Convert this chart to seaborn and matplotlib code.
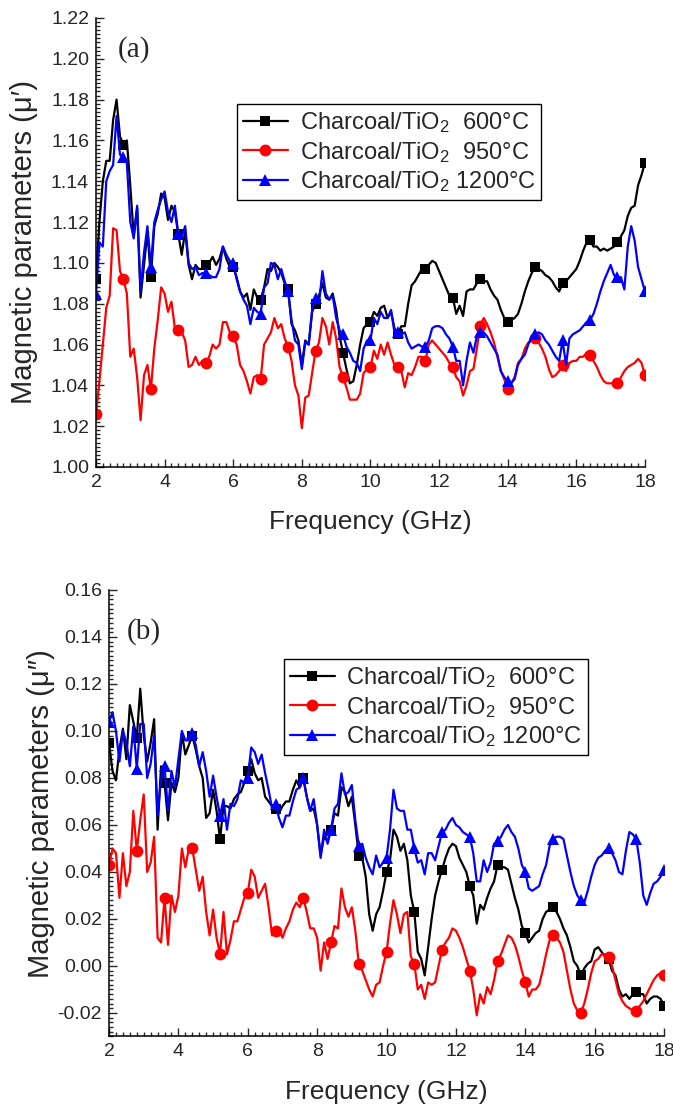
import numpy as np
import matplotlib
matplotlib.use("Agg")
import matplotlib.pyplot as plt
import seaborn as sns
from matplotlib.ticker import AutoMinorLocator, MultipleLocator, FormatStrFormatter

# frequency grid, 2-18 GHz in 0.1 GHz steps (161 points)
freq = np.round(np.linspace(2, 18, 161), 1)

labels = ["Charcoal/TiO$_2$  600°C", "Charcoal/TiO$_2$  950°C", "Charcoal/TiO$_2$ 1200°C"]

# (a) real part mu'
mu_real_600 = [
    1.092, 1.120, 1.140, 1.150, 1.150, 1.170, 1.180, 1.162, 1.158, 1.160,
    1.138, 1.113, 1.127, 1.083, 1.099, 1.115, 1.093, 1.118, 1.124, 1.134,
    1.132, 1.121, 1.128, 1.125, 1.114, 1.104, 1.116, 1.099, 1.092, 1.099,
    1.097, 1.097, 1.099, 1.100, 1.103, 1.099, 1.102, 1.108, 1.102, 1.098,
    1.098, 1.093, 1.086, 1.083, 1.085, 1.077, 1.087, 1.083, 1.082, 1.088,
    1.097, 1.096, 1.100, 1.098, 1.095, 1.090, 1.087, 1.070, 1.067, 1.062,
    1.050, 1.062, 1.060, 1.076, 1.080, 1.084, 1.090, 1.083, 1.082, 1.085,
    1.077, 1.064, 1.056, 1.048, 1.041, 1.042, 1.050, 1.060, 1.068, 1.070,
    1.071, 1.076, 1.074, 1.078, 1.079, 1.073, 1.076, 1.068, 1.065, 1.069,
    1.069, 1.080, 1.089, 1.091, 1.094, 1.097, 1.097, 1.099, 1.101, 1.100,
    1.096, 1.092, 1.088, 1.084, 1.083, 1.075, 1.079, 1.074, 1.086, 1.087,
    1.087, 1.090, 1.092, 1.091, 1.091, 1.087, 1.084, 1.082, 1.077, 1.073,
    1.071, 1.072, 1.073, 1.075, 1.080, 1.086, 1.091, 1.095, 1.098, 1.097,
    1.096, 1.094, 1.093, 1.091, 1.088, 1.086, 1.090, 1.091, 1.093, 1.095,
    1.097, 1.101, 1.106, 1.110, 1.111, 1.108, 1.108, 1.106, 1.107, 1.106,
    1.107, 1.108, 1.110, 1.113, 1.116, 1.123, 1.127, 1.128, 1.138, 1.143,
    1.149]
mu_real_950 = [
    1.026, 1.042, 1.060, 1.078, 1.084, 1.117, 1.116, 1.096, 1.092, 1.085,
    1.054, 1.058, 1.044, 1.023, 1.045, 1.050, 1.038, 1.058, 1.072, 1.088,
    1.085, 1.076, 1.081, 1.068, 1.067, 1.066, 1.062, 1.049, 1.050, 1.054,
    1.050, 1.052, 1.051, 1.054, 1.060, 1.058, 1.060, 1.071, 1.071, 1.066,
    1.064, 1.060, 1.050, 1.047, 1.042, 1.036, 1.044, 1.045, 1.043, 1.060,
    1.063, 1.066, 1.073, 1.068, 1.070, 1.063, 1.059, 1.052, 1.040, 1.035,
    1.019, 1.034, 1.035, 1.046, 1.057, 1.061, 1.073, 1.069, 1.060, 1.071,
    1.063, 1.049, 1.044, 1.039, 1.033, 1.033, 1.033, 1.036, 1.046, 1.048,
    1.049, 1.057, 1.053, 1.060, 1.055, 1.061, 1.055, 1.050, 1.049, 1.047,
    1.039, 1.046, 1.045, 1.049, 1.054, 1.054, 1.052, 1.060, 1.062, 1.060,
    1.058, 1.056, 1.054, 1.051, 1.049, 1.044, 1.042, 1.035, 1.040, 1.047,
    1.048, 1.058, 1.069, 1.073, 1.070, 1.066, 1.061, 1.054, 1.047, 1.043,
    1.038, 1.041, 1.044, 1.051, 1.053, 1.058, 1.061, 1.062, 1.063, 1.061,
    1.058, 1.054, 1.048, 1.044, 1.045, 1.047, 1.050, 1.047, 1.051, 1.052,
    1.052, 1.054, 1.054, 1.056, 1.055, 1.052, 1.049, 1.045, 1.042, 1.041,
    1.041, 1.041, 1.041, 1.044, 1.047, 1.049, 1.050, 1.051, 1.053, 1.051,
    1.045]
mu_real_1200 = [
    1.085, 1.110, 1.108, 1.140, 1.145, 1.148, 1.172, 1.153, 1.152, 1.149,
    1.120, 1.112, 1.128, 1.086, 1.105, 1.118, 1.098, 1.120, 1.126, 1.131,
    1.135, 1.125, 1.120, 1.128, 1.114, 1.113, 1.118, 1.100, 1.097, 1.098,
    1.094, 1.095, 1.095, 1.094, 1.093, 1.093, 1.097, 1.108, 1.104, 1.101,
    1.100, 1.092, 1.086, 1.082, 1.079, 1.070, 1.078, 1.076, 1.075, 1.088,
    1.090, 1.100, 1.099, 1.092, 1.097, 1.091, 1.086, 1.072, 1.062, 1.060,
    1.048, 1.061, 1.060, 1.077, 1.083, 1.080, 1.096, 1.085, 1.082, 1.084,
    1.073, 1.067, 1.065, 1.059, 1.056, 1.052, 1.051, 1.047, 1.058, 1.062,
    1.062, 1.073, 1.070, 1.076, 1.073, 1.073, 1.077, 1.066, 1.066, 1.065,
    1.066, 1.061, 1.058, 1.059, 1.060, 1.059, 1.059, 1.062, 1.068, 1.069,
    1.069, 1.068, 1.065, 1.063, 1.059, 1.052, 1.052, 1.040, 1.052, 1.061,
    1.056, 1.064, 1.066, 1.066, 1.064, 1.061, 1.058, 1.055, 1.047, 1.044,
    1.042, 1.041, 1.043, 1.050, 1.053, 1.055, 1.060, 1.064, 1.065, 1.066,
    1.065, 1.062, 1.060, 1.057, 1.054, 1.052, 1.062, 1.050, 1.063, 1.065,
    1.066, 1.067, 1.069, 1.071, 1.072, 1.075, 1.080, 1.086, 1.091, 1.095,
    1.099, 1.094, 1.093, 1.093, 1.087, 1.108, 1.118, 1.111, 1.098, 1.092,
    1.086]

# (b) imaginary part mu''
mu_imag_600 = [
    0.095, 0.083, 0.079, 0.092, 0.101, 0.088, 0.111, 0.104, 0.097, 0.118,
    0.098, 0.087, 0.095, 0.105, 0.058, 0.085, 0.078, 0.062, 0.078, 0.074,
    0.080, 0.099, 0.090, 0.094, 0.098, 0.092, 0.085, 0.080, 0.063, 0.065,
    0.075, 0.066, 0.054, 0.068, 0.068, 0.067, 0.071, 0.073, 0.074, 0.078,
    0.083, 0.088, 0.082, 0.079, 0.080, 0.072, 0.070, 0.068, 0.067, 0.065,
    0.068, 0.070, 0.070, 0.075, 0.079, 0.076, 0.080, 0.072, 0.066, 0.067,
    0.060, 0.047, 0.055, 0.053, 0.058, 0.065, 0.064, 0.076, 0.074, 0.068,
    0.072, 0.060, 0.047, 0.046, 0.038, 0.022, 0.015, 0.022, 0.025, 0.032,
    0.040, 0.045, 0.058, 0.055, 0.049, 0.052, 0.045, 0.030, 0.023, 0.006,
    0.003, -0.004, 0.008, 0.020, 0.030, 0.036, 0.041, 0.046, 0.050, 0.052,
    0.051, 0.046, 0.043, 0.040, 0.034, 0.030, 0.018, 0.026, 0.024, 0.029,
    0.033, 0.036, 0.043, 0.042, 0.042, 0.041, 0.035, 0.029, 0.024, 0.017,
    0.014, 0.010, 0.012, 0.014, 0.015, 0.020, 0.023, 0.024, 0.025, 0.023,
    0.020, 0.016, 0.013, 0.008, 0.002, 0.000, -0.004, -0.001, 0.001, 0.002,
    0.007, 0.008, 0.006, 0.004, 0.003, -0.002, -0.004, -0.010, -0.013, -0.012,
    -0.014, -0.012, -0.011, -0.012, -0.012, -0.016, -0.014, -0.013, -0.013, -0.014,
    -0.017]
mu_imag_950 = [
    0.043, 0.050, 0.048, 0.029, 0.048, 0.034, 0.040, 0.066, 0.049, 0.062,
    0.073, 0.040, 0.044, 0.055, 0.012, 0.010, 0.029, 0.009, 0.030, 0.023,
    0.030, 0.050, 0.042, 0.050, 0.050, 0.041, 0.032, 0.038, 0.023, 0.013,
    0.024, 0.012, 0.005, 0.023, 0.005, 0.011, 0.019, 0.019, 0.024, 0.029,
    0.031, 0.041, 0.038, 0.029, 0.032, 0.035, 0.025, 0.013, 0.015, 0.016,
    0.012, 0.016, 0.019, 0.024, 0.027, 0.025, 0.029, 0.023, 0.016, 0.016,
    0.012, -0.002, 0.010, 0.003, 0.010, 0.017, 0.016, 0.033, 0.025, 0.021,
    0.025, 0.015, 0.001, -0.002, -0.006, -0.010, -0.013, -0.008, -0.007, 0.000,
    0.006, 0.018, 0.028, 0.022, 0.014, 0.022, 0.023, 0.004, 0.001, -0.010,
    -0.008, -0.014, -0.007, -0.008, -0.007, 0.000, 0.007, 0.010, 0.012, 0.016,
    0.015, 0.012, 0.008, 0.003, -0.002, -0.010, -0.021, -0.012, -0.016, -0.009,
    -0.012, -0.006, 0.002, 0.005, 0.009, 0.013, 0.012, 0.009, 0.004, -0.002,
    -0.007, -0.013, -0.010, -0.010, -0.008, -0.002, 0.005, 0.011, 0.013, 0.012,
    0.010, 0.006, -0.002, -0.010, -0.016, -0.019, -0.020, -0.016, -0.010, -0.003,
    0.002, 0.003, 0.005, 0.005, 0.004, 0.000, -0.006, -0.012, -0.015, -0.017,
    -0.018, -0.019, -0.019, -0.017, -0.015, -0.012, -0.009, -0.006, -0.004, -0.003,
    -0.004]
mu_imag_1200 = [
    0.104, 0.108, 0.100, 0.087, 0.100, 0.095, 0.085, 0.102, 0.084, 0.103,
    0.103, 0.080, 0.086, 0.098, 0.064, 0.080, 0.085, 0.066, 0.083, 0.076,
    0.088, 0.100, 0.096, 0.096, 0.099, 0.094, 0.085, 0.091, 0.083, 0.072,
    0.081, 0.072, 0.064, 0.071, 0.058, 0.069, 0.068, 0.071, 0.079, 0.078,
    0.080, 0.093, 0.091, 0.086, 0.090, 0.082, 0.075, 0.067, 0.069, 0.063,
    0.059, 0.064, 0.064, 0.070, 0.075, 0.076, 0.080, 0.072, 0.066, 0.071,
    0.060, 0.046, 0.058, 0.052, 0.058, 0.067, 0.069, 0.082, 0.073, 0.074,
    0.077, 0.062, 0.051, 0.052, 0.046, 0.042, 0.039, 0.047, 0.042, 0.044,
    0.046, 0.058, 0.075, 0.067, 0.066, 0.066, 0.058, 0.058, 0.050, 0.044,
    0.045, 0.039, 0.048, 0.048, 0.045, 0.051, 0.057, 0.058, 0.061, 0.063,
    0.060, 0.059, 0.057, 0.056, 0.055, 0.048, 0.036, 0.036, 0.045, 0.040,
    0.044, 0.052, 0.053, 0.055, 0.058, 0.060, 0.057, 0.055, 0.050, 0.043,
    0.040, 0.033, 0.032, 0.033, 0.034, 0.039, 0.043, 0.051, 0.054, 0.055,
    0.055, 0.054, 0.047, 0.040, 0.034, 0.030, 0.028, 0.027, 0.032, 0.038,
    0.043, 0.046, 0.047, 0.049, 0.050, 0.048, 0.045, 0.040, 0.039, 0.049,
    0.057, 0.056, 0.054, 0.044, 0.030, 0.026, 0.031, 0.035, 0.036, 0.038,
    0.041]

colors = ["#000000", "#ff0000", "#0000ff"]
markers = ["s", "o", "^"]
msizes = [7, 8.5, 8.5]

sns.set_style("ticks")
plt.rcParams['font.family'] = ['Liberation Sans', 'DejaVu Sans']
plt.rcParams['mathtext.fontset'] = 'custom'
plt.rcParams['mathtext.rm'] = 'Liberation Sans'
plt.rcParams['mathtext.default'] = 'regular'
plt.rcParams['axes.unicode_minus'] = False

fig = plt.figure(figsize=(6.73, 11.09), dpi=100)
ax1 = fig.add_axes([0.1426, 0.5789, 0.8157, 0.4049])
ax2 = fig.add_axes([0.162, 0.0654, 0.8247, 0.4026])


def draw(ax, series, ylim, ystep, ylabel, tag, tagpos, legpos):
    for vals, c, m, ms, lab in zip(series, colors, markers, msizes, labels):
        sns.lineplot(x=freq, y=vals, ax=ax, color=c, marker=m, markersize=ms,
                     markevery=8, linewidth=1.6, markeredgewidth=0,
                     label=lab, legend=False)
    ax.set_xlim(2, 18)
    ax.set_ylim(*ylim)
    ax.xaxis.set_major_locator(MultipleLocator(2))
    ax.yaxis.set_major_locator(MultipleLocator(ystep))
    ax.yaxis.set_major_formatter(FormatStrFormatter('%.2f'))
    ax.xaxis.set_minor_locator(AutoMinorLocator(10))
    ax.yaxis.set_minor_locator(AutoMinorLocator(10))
    ax.tick_params(which='both', direction='in', width=1.0, labelsize=14, pad=5)
    ax.tick_params(which='major', length=6)
    ax.tick_params(which='minor', length=3)
    for s in ['top', 'right']:
        ax.spines[s].set_visible(False)
    for s in ['left', 'bottom']:
        ax.spines[s].set_linewidth(1.1)
        ax.spines[s].set_color('black')
    ax.set_xlabel('Frequency (GHz)', fontsize=19, labelpad=14)
    ax.set_ylabel(ylabel, fontsize=21)
    ax.text(tagpos[0], tagpos[1], tag, transform=ax.transAxes, fontsize=21,
            family='Liberation Serif', va='center', ha='left')
    leg = ax.legend(loc='upper left', bbox_to_anchor=legpos, fontsize=17,
                    frameon=True, fancybox=False, framealpha=1, edgecolor='black',
                    borderpad=0.25, labelspacing=0.2, handlelength=1.9,
                    handletextpad=0.5, borderaxespad=0)
    leg.get_frame().set_linewidth(1.0)


draw(ax1, [mu_real_600, mu_real_950, mu_real_1200], (1.00, 1.22), 0.02,
     'Magnetic parameters (μ′)', '(a)', (0.04, 0.93), (0.257, 0.808))
draw(ax2, [mu_imag_600, mu_imag_950, mu_imag_1200], (-0.03, 0.16), 0.02,
     'Magnetic parameters (μ″)', '(b)', (0.032, 0.906), (0.315, 0.845))
ax2.set_yticks(np.round(np.arange(-0.02, 0.161, 0.02), 2))
ax1.yaxis.set_label_coords(-0.106, 0.5)
ax2.yaxis.set_label_coords(-0.097, 0.5)

fig.savefig('out.png', dpi=100)
